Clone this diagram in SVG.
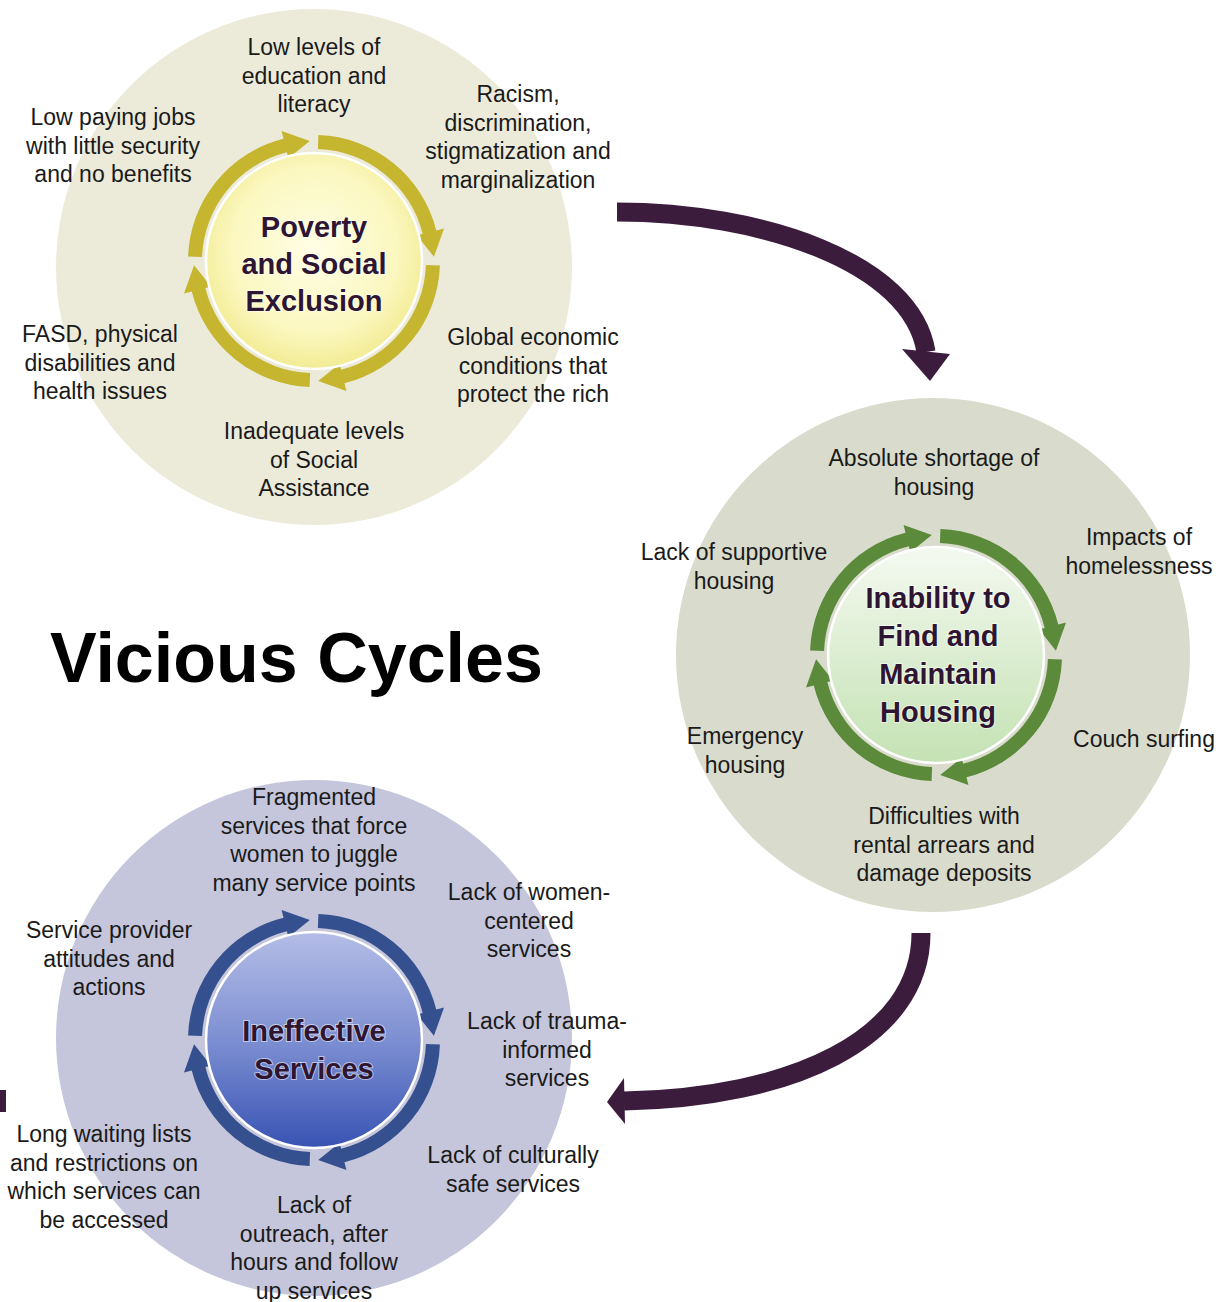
<svg xmlns="http://www.w3.org/2000/svg" width="1222" height="1302" viewBox="0 0 1222 1302">
<defs>
<style>
.lbl{font-family:"Liberation Sans",Arial,sans-serif;font-size:23px;fill:#1a1a1a;text-anchor:middle}
.ctr{font-family:"Liberation Sans",Arial,sans-serif;font-size:29px;font-weight:bold;fill:#2e1532;text-anchor:middle;stroke:#ffffff;stroke-opacity:0.55;stroke-width:2;paint-order:stroke}
.title{font-family:"Liberation Sans",Arial,sans-serif;font-size:70px;font-weight:bold;fill:#000000}
.big{fill:none;stroke:#3b1c3c;stroke-width:19}
.head{fill:#3b1c3c}
</style>
<path id="seg" d="M 4.40 -125.92 A 126 126 0 0 1 122.26 -30.48 L 130.02 -32.42 L 119.93 -4.19 L 102.85 -25.64 L 108.67 -27.09 A 112 112 0 0 0 3.91 -111.93 Z"/>
<radialGradient id="gY" cx="50%" cy="45%" r="55%">
<stop offset="0" stop-color="#fffee6"/>
<stop offset="0.7" stop-color="#fbf7bf"/>
<stop offset="1" stop-color="#f2ec94"/>
</radialGradient>
<linearGradient id="gG" x1="0" y1="0" x2="0" y2="1">
<stop offset="0" stop-color="#f4f9f0"/>
<stop offset="1" stop-color="#c4e2b3"/>
</linearGradient>
<linearGradient id="gB" x1="0" y1="0" x2="0" y2="1">
<stop offset="0" stop-color="#b4bde6"/>
<stop offset="0.5" stop-color="#7d8fd2"/>
<stop offset="1" stop-color="#3853b3"/>
</linearGradient>
</defs>
<rect width="1222" height="1302" fill="#ffffff"/>

<g id="cycle-poverty">
<circle cx="314" cy="267" r="258" fill="#ecebda"/>
<g transform="translate(314 261)" fill="#c6b52f">
<use href="#seg"/>
<use href="#seg" transform="rotate(90)"/>
<use href="#seg" transform="rotate(180)"/>
<use href="#seg" transform="rotate(270)"/>
<circle r="108" fill="url(#gY)" stroke="#ffffff" stroke-width="2.5"/>
</g>
<text class="ctr" x="314" y="237">Poverty</text>
<text class="ctr" x="314" y="274">and Social</text>
<text class="ctr" x="314" y="311">Exclusion</text>
<text class="lbl" x="314" y="55">Low levels of</text>
<text class="lbl" x="314" y="83.5">education and</text>
<text class="lbl" x="314" y="112">literacy</text>
<text class="lbl" x="518" y="102">Racism,</text>
<text class="lbl" x="518" y="130.5">discrimination,</text>
<text class="lbl" x="518" y="159">stigmatization and</text>
<text class="lbl" x="518" y="187.5">marginalization</text>
<text class="lbl" x="113" y="125">Low paying jobs</text>
<text class="lbl" x="113" y="153.5">with little security</text>
<text class="lbl" x="113" y="182">and no benefits</text>
<text class="lbl" x="100" y="342">FASD, physical</text>
<text class="lbl" x="100" y="370.5">disabilities and</text>
<text class="lbl" x="100" y="399">health issues</text>
<text class="lbl" x="533" y="345">Global economic</text>
<text class="lbl" x="533" y="373.5">conditions that</text>
<text class="lbl" x="533" y="402">protect the rich</text>
<text class="lbl" x="314" y="439">Inadequate levels</text>
<text class="lbl" x="314" y="467.5">of Social</text>
<text class="lbl" x="314" y="496">Assistance</text>
</g>

<g id="cycle-housing">
<circle cx="933" cy="655" r="257" fill="#d9dccc"/>
<g transform="translate(936 655)" fill="#5b8a3b">
<use href="#seg"/>
<use href="#seg" transform="rotate(90)"/>
<use href="#seg" transform="rotate(180)"/>
<use href="#seg" transform="rotate(270)"/>
<circle r="108" fill="url(#gG)" stroke="#ffffff" stroke-width="2.5"/>
</g>
<text class="ctr" x="938" y="608">Inability to</text>
<text class="ctr" x="938" y="646">Find and</text>
<text class="ctr" x="938" y="684">Maintain</text>
<text class="ctr" x="938" y="722">Housing</text>
<text class="lbl" x="934" y="466">Absolute shortage of</text>
<text class="lbl" x="934" y="494.5">housing</text>
<text class="lbl" x="1139" y="545">Impacts of</text>
<text class="lbl" x="1139" y="573.5">homelessness</text>
<text class="lbl" x="734" y="560">Lack of supportive</text>
<text class="lbl" x="734" y="588.5">housing</text>
<text class="lbl" x="745" y="744">Emergency</text>
<text class="lbl" x="745" y="772.5">housing</text>
<text class="lbl" x="1144" y="747">Couch surfing</text>
<text class="lbl" x="944" y="824">Difficulties with</text>
<text class="lbl" x="944" y="852.5">rental arrears and</text>
<text class="lbl" x="944" y="881">damage deposits</text>
</g>

<g id="cycle-services">
<circle cx="314" cy="1038" r="258" fill="#c5c6db"/>
<g transform="translate(314 1040)" fill="#34508f">
<use href="#seg"/>
<use href="#seg" transform="rotate(90)"/>
<use href="#seg" transform="rotate(180)"/>
<use href="#seg" transform="rotate(270)"/>
<circle r="108" fill="url(#gB)" stroke="#ffffff" stroke-width="2.5"/>
</g>
<text class="ctr" x="314" y="1041">Ineffective</text>
<text class="ctr" x="314" y="1079">Services</text>
<text class="lbl" x="314" y="805">Fragmented</text>
<text class="lbl" x="314" y="833.5">services that force</text>
<text class="lbl" x="314" y="862">women to juggle</text>
<text class="lbl" x="314" y="890.5">many service points</text>
<text class="lbl" x="529" y="900">Lack of women-</text>
<text class="lbl" x="529" y="928.5">centered</text>
<text class="lbl" x="529" y="957">services</text>
<text class="lbl" x="109" y="938">Service provider</text>
<text class="lbl" x="109" y="966.5">attitudes and</text>
<text class="lbl" x="109" y="995">actions</text>
<text class="lbl" x="547" y="1029">Lack of trauma-</text>
<text class="lbl" x="547" y="1057.5">informed</text>
<text class="lbl" x="547" y="1086">services</text>
<text class="lbl" x="104" y="1142">Long waiting lists</text>
<text class="lbl" x="104" y="1170.5">and restrictions on</text>
<text class="lbl" x="104" y="1199">which services can</text>
<text class="lbl" x="104" y="1227.5">be accessed</text>
<text class="lbl" x="513" y="1163">Lack of culturally</text>
<text class="lbl" x="513" y="1191.5">safe services</text>
<text class="lbl" x="314" y="1213">Lack of</text>
<text class="lbl" x="314" y="1241.5">outreach, after</text>
<text class="lbl" x="314" y="1270">hours and follow</text>
<text class="lbl" x="314" y="1298.5">up services</text>
</g>

<text class="title" x="50" y="682">Vicious Cycles</text>

<g id="connectors">
<path class="big" d="M 617 212 C 760 212, 912 262, 926 352"/>
<polygon class="head" points="902,349 950,354 930,381"/>
<path class="big" d="M 921 933 C 921 1040, 790 1098, 624 1101"/>
<polygon class="head" points="624,1078 607,1102 625,1124"/>
<rect class="head" x="0" y="1090" width="6" height="22"/>
</g>
</svg>
